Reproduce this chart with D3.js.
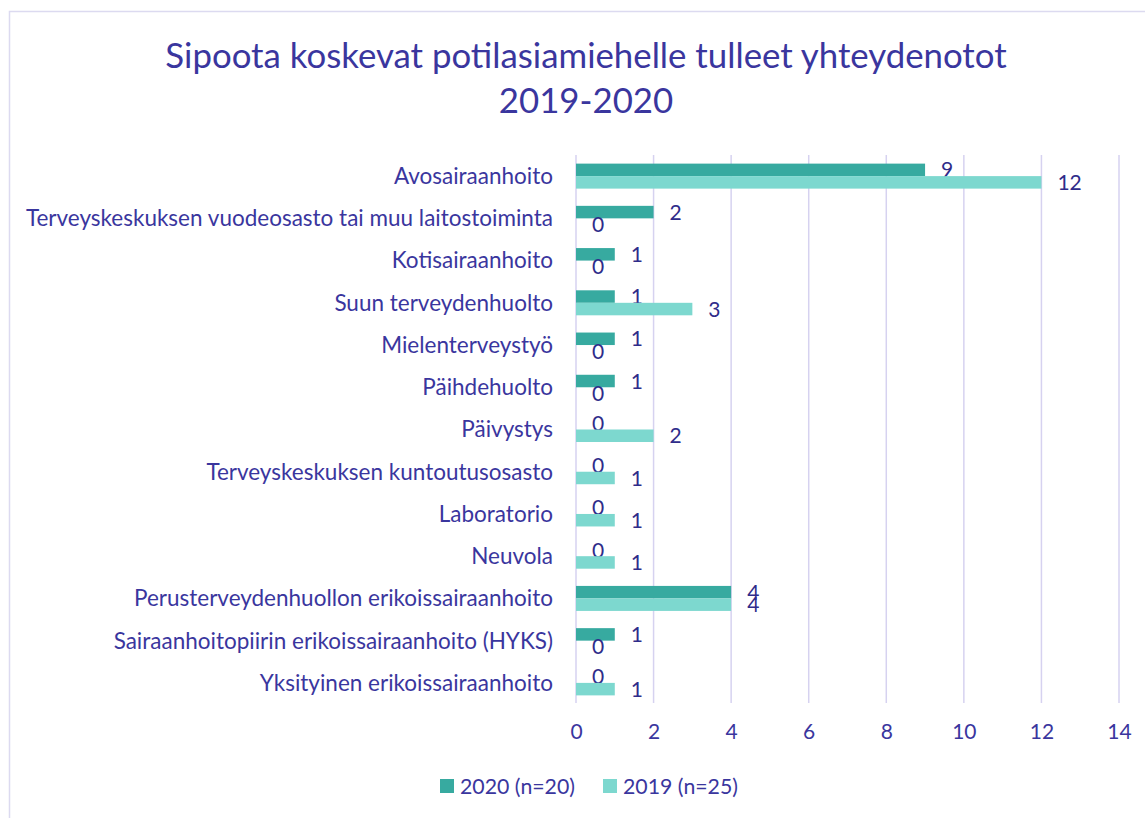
<!DOCTYPE html>
<html><head><meta charset="utf-8">
<script src="https://cdn.jsdelivr.net/npm/d3@7"></script>
<style>body{margin:0;background:#fff}svg{display:block}text{font-family:Lato,"Noto Sans",sans-serif}</style>
</head><body>
<svg id="c" width="1145" height="818"></svg>
<script>
const categories = ["Avosairaanhoito","Terveyskeskuksen vuodeosasto tai muu laitostoiminta","Kotisairaanhoito","Suun terveydenhuolto","Mielenterveystyö","Päihdehuolto","Päivystys","Terveyskeskuksen kuntoutusosasto","Laboratorio","Neuvola","Perusterveydenhuollon erikoissairaanhoito","Sairaanhoitopiirin erikoissairaanhoito (HYKS)","Yksityinen erikoissairaanhoito"];
const values2020 = [9,2,1,1,1,1,0,0,0,0,4,1,0];
const values2019 = [12,0,0,3,0,0,2,1,1,1,4,0,1];
const seriesNames = ["2020 (n=20)","2019 (n=25)"];
const xTicks = [0,2,4,6,8,10,12,14];
const titleLines = ["Sipoota koskevat potilasiamiehelle tulleet yhteydenotot","2019-2020"];

const colors = ["#37aaa0","#7dd8cf"];
const textColor = "#3a369e";
const svg = d3.select("#c");

svg.append("rect").attr("x",9.5).attr("y",11.5).attr("width",1145).attr("height",818)
  .attr("fill","none").attr("stroke","#dcdaf0").attr("stroke-width",1.5);

const x = d3.scaleLinear().domain([0,14]).range([576,1119]);
const y = d3.scaleBand().domain(categories).range([155,704]);
const sub = d3.scaleBand().domain([0,1]).range([0,25]);

titleLines.forEach((t,i)=>{
  svg.append("text").attr("x",586).attr("y",68+i*45).attr("text-anchor","middle")
    .attr("font-size",34.8).attr("fill",textColor).text(t);
});

// grid
svg.append("g").selectAll("line").data(xTicks).join("line")
  .attr("x1",d=>x(d)).attr("x2",d=>x(d)).attr("y1",155).attr("y2",703)
  .attr("stroke","#d6d2f0").attr("stroke-width",1.5);

// axis tick labels
const ax = svg.append("g").attr("transform","translate(0,704)")
  .call(d3.axisBottom(x).tickValues(xTicks).tickSize(0).tickPadding(20));
ax.select(".domain").remove();
ax.selectAll("text").attr("font-size",21).attr("fill",textColor).attr("font-family","Lato,sans-serif");

// category labels
svg.append("g").selectAll("text").data(categories).join("text")
  .attr("x",553).attr("y",d=>y(d)+y.bandwidth()/2).attr("dy","0.35em")
  .attr("text-anchor","end").attr("font-size",22.5).attr("fill",textColor).text(d=>d);

const series = [values2020, values2019];
series.forEach((vals,si)=>{
  const g = svg.append("g");
  const by = d => y(d) + (y.bandwidth()-25)/2 + sub(si);
  g.selectAll("rect").data(categories).join("rect")
    .attr("x",x(0)).attr("y",by).attr("width",(d,i)=>x(vals[i])-x(0))
    .attr("height",sub.bandwidth()).attr("fill",colors[si]);
  g.selectAll("text").data(categories).join("text")
    .attr("x",(d,i)=>x(vals[i])+16).attr("y",d=>by(d)+sub.bandwidth()/2).attr("dy","0.36em")
    .attr("font-size",21).attr("fill","#2f2c8a").text((d,i)=>vals[i]);
});

// legend
const leg = svg.append("g");
const lx = [440,603];
seriesNames.forEach((n,i)=>{
  leg.append("rect").attr("x",lx[i]).attr("y",779).attr("width",14).attr("height",14).attr("fill",colors[i]);
  leg.append("text").attr("x",lx[i]+20).attr("y",786).attr("dy","0.36em").attr("font-size",21.3)
    .attr("fill",textColor).text(n);
});
</script>
</body></html>
